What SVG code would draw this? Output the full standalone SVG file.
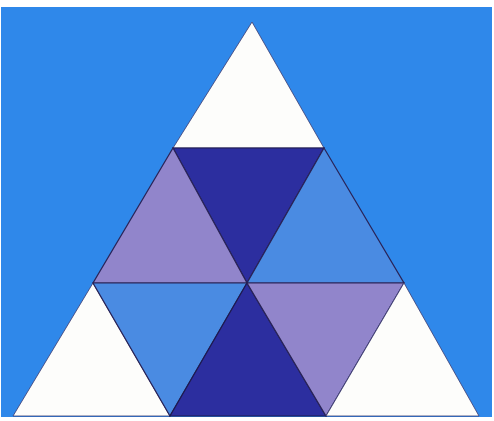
<svg xmlns="http://www.w3.org/2000/svg" width="494" height="421" viewBox="0 0 494 421">
<style>
.w{fill:#fdfdfb;stroke:#3a3a70;stroke-width:0.8}
.d{fill:#2c2e9f;stroke:#1e1a50;stroke-width:1.2}
.p{fill:#9185cb;stroke:#2a2458;stroke-width:1.2}
.l{fill:#4a8be2;stroke:#2a2458;stroke-width:1.2}
</style>
<rect width="494" height="421" fill="#ffffff"/>
<rect x="1" y="7" width="491" height="414" fill="#2f88ea"/>
<g id="top-white"><polygon class="w" points="252,22 324,148 173,148"/></g>
<g id="top-dark"><polygon class="d" points="173,148 324,148 247,283"/></g>
<g id="mid-purple"><polygon class="p" points="173,148 247,283 93,283"/></g>
<g id="mid-light"><polygon class="l" points="324,148 404,283 247,283"/></g>
<g id="bottom-left-white"><polygon class="w" points="93,283 170,416 13,416"/></g>
<g id="bottom-light"><polygon class="l" points="93,283 247,283 170,416"/></g>
<g id="bottom-dark"><polygon class="d" points="247,283 326,416 170,416"/></g>
<g id="bottom-purple"><polygon class="p" points="247,283 404,283 326,416"/></g>
<g id="bottom-right-white"><polygon class="w" points="404,283 479,416 326,416"/></g>
<rect x="0" y="417" width="494" height="4" fill="#ffffff"/>
</svg>
